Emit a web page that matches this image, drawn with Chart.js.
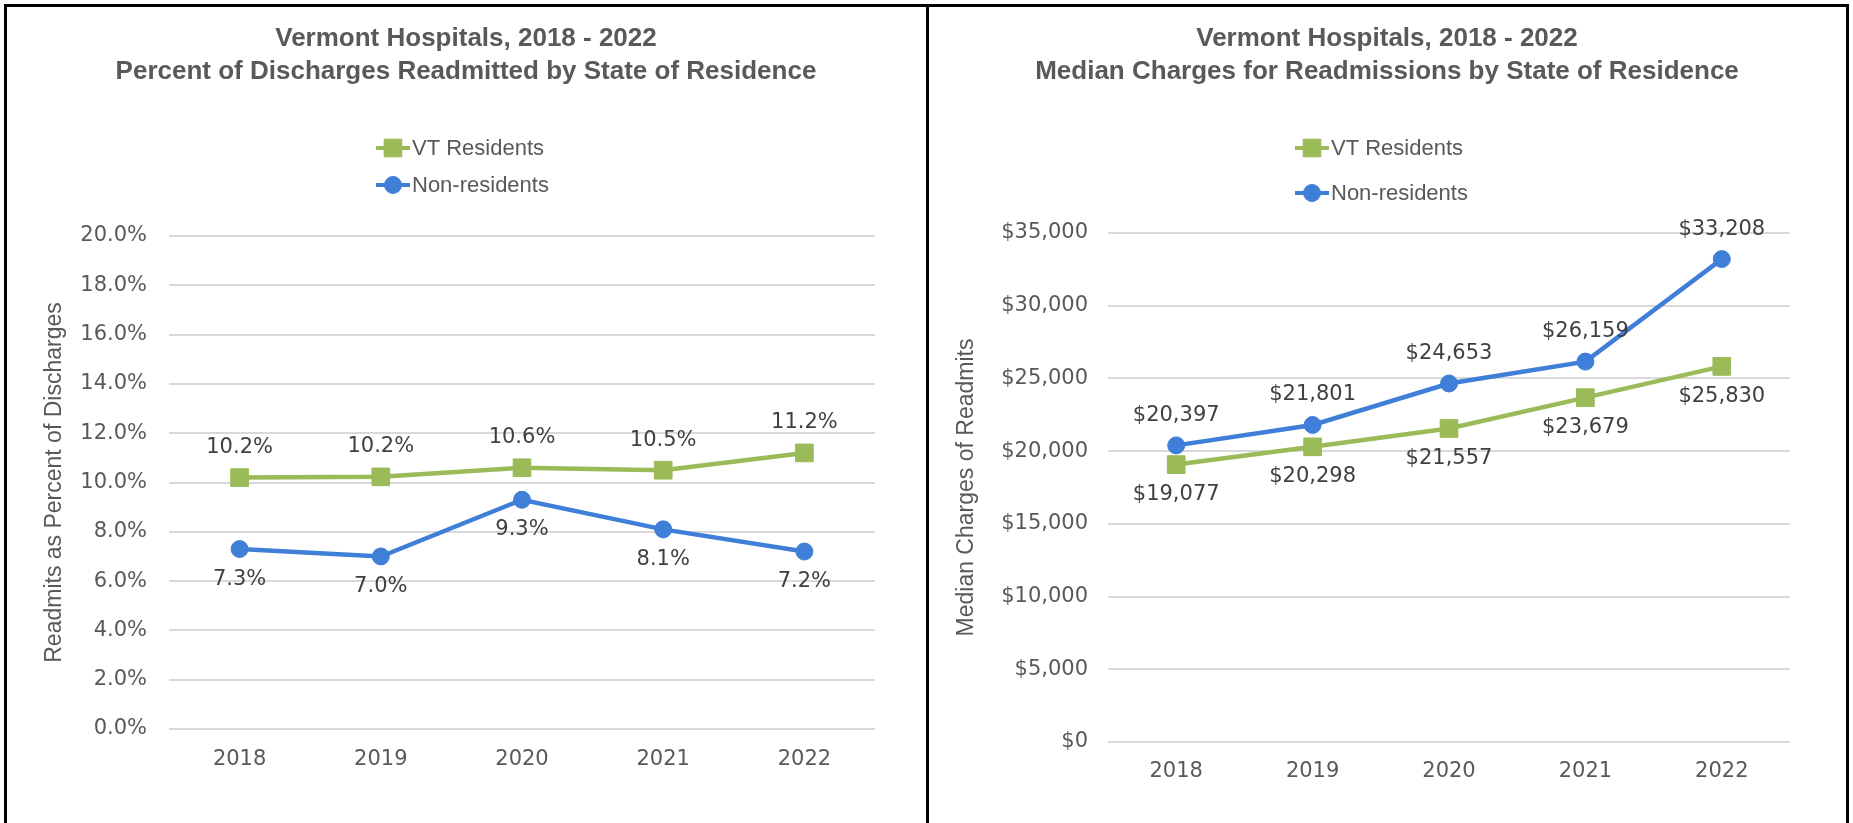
<!DOCTYPE html>
<html>
<head>
<meta charset="utf-8">
<script src="https://cdn.jsdelivr.net/npm/chart.js@4.4.1/dist/chart.umd.min.js"></script>
<style>
  html, body { margin: 0; padding: 0; background: #fff; }
  body { width: 1853px; height: 823px; position: relative; overflow: hidden; }
  .frame { position: absolute; left: 4px; top: 4px; width: 1839px; height: 840px; border: 3px solid #000; }
  .divider { position: absolute; left: 926px; top: 4px; width: 3px; height: 830px; background: #000; }
  .panel { position: absolute; top: 7px; height: 816px; }
  #leftPanel { left: 7px; width: 919px; }
  #rightPanel { left: 930px; width: 914px; }
</style>
</head>
<body>
<div class="frame"></div>
<div class="divider"></div>
<div class="panel" id="leftPanel"><canvas id="pctChart"></canvas></div>
<div class="panel" id="rightPanel"><canvas id="chargeChart"></canvas></div>

<script>
// --- Data ---
const years = ['2018', '2019', '2020', '2021', '2022'];
const seriesNames = ['VT Residents', 'Non-residents'];

// Percent of discharges readmitted
const vtPct = [10.2, 10.23, 10.6, 10.5, 11.2];
const nonPct = [7.3, 7.0, 9.3, 8.1, 7.2];
const pctTitle = ['Vermont Hospitals, 2018 - 2022', 'Percent of Discharges Readmitted by State of Residence'];
const pctAxisTitle = 'Readmits as Percent of Discharges';

// Median charges for readmissions
const vtCharges = [19077, 20298, 21557, 23679, 25830];
const nonCharges = [20397, 21801, 24653, 26159, 33208];
const chargeTitle = ['Vermont Hospitals, 2018 - 2022', 'Median Charges for Readmissions by State of Residence'];
const chargeAxisTitle = 'Median Charges of Readmits';

// --- Styles ---
const GREEN = '#9BBB59';
const BLUE = '#3F7FD7';
const GRID = '#D9D9D9';
const TEXT = '#595959';
const LABEL = '#404040';
const FONT = '"Liberation Sans", Arial, sans-serif';
const WIDE = '"DejaVu Sans", Verdana, sans-serif'; // numbers in the original are wide

const fmtPct = v => v.toFixed(1) + '%';
const fmtMoney = v => '$' + Math.round(v).toLocaleString('en-US');

// legend drawn as line + marker, stacked vertically
const lineLegend = {
    id: 'lineLegend',
    afterDraw(chart, args, opts) {
        const ctx = chart.ctx;
        ctx.save();
        ctx.font = '22px ' + FONT;
        ctx.textBaseline = 'middle';
        ctx.textAlign = 'left';
        chart.data.datasets.forEach((ds, i) => {
            const y = opts.rows[i];
            const x0 = opts.x;
            ctx.strokeStyle = ds.borderColor;
            ctx.lineWidth = 4;
            ctx.beginPath();
            ctx.moveTo(x0, y);
            ctx.lineTo(x0 + 34, y);
            ctx.stroke();
            ctx.fillStyle = ds.pointBackgroundColor;
            ctx.lineWidth = 1;
            Chart.helpers.drawPoint(ctx, {
                pointStyle: ds.pointStyle,
                radius: ds.pointRadius,
                borderWidth: 1
            }, x0 + 17, y);
            ctx.fillStyle = TEXT;
            ctx.fillText(ds.label, x0 + 36, y + 1);
        });
        ctx.restore();
    }
};

// value labels above / below each point
const pointLabels = {
    id: 'pointLabels',
    afterDatasetsDraw(chart, args, opts) {
        const ctx = chart.ctx;
        ctx.save();
        ctx.font = '21px ' + WIDE;
        ctx.fillStyle = LABEL;
        ctx.textAlign = 'center';
        ctx.textBaseline = 'middle';
        chart.data.datasets.forEach((ds, i) => {
            const meta = chart.getDatasetMeta(i);
            meta.data.forEach((pt, j) => {
                const dy = ds.labelPos === 'above' ? -opts.offset : opts.offset;
                ctx.fillText(opts.format(ds.data[j]), pt.x, pt.y + dy);
            });
        });
        ctx.restore();
    }
};

function makeDataset(name, values, color, style, labelPos) {
    return {
        label: name,
        data: values,
        borderColor: color,
        backgroundColor: color,
        borderWidth: 4.5,
        pointStyle: style,
        pointRadius: style === 'rect' ? 12.5 : 8.5,
        pointBorderWidth: 1,
        pointBorderColor: color,
        pointBackgroundColor: color,
        tension: 0,
        labelPos: labelPos
    };
}

function makeChart(canvasId, cfg) {
    return new Chart(document.getElementById(canvasId), {
        type: 'line',
        data: { labels: years, datasets: cfg.datasets },
        options: {
            responsive: true,
            maintainAspectRatio: false,
            animation: false,
            layout: { padding: { left: cfg.padLeft, right: cfg.padRight, top: 0, bottom: 0 } },
            plugins: {
                legend: { display: false },
                tooltip: { enabled: false },
                title: {
                    display: true,
                    text: cfg.title,
                    color: TEXT,
                    font: { family: FONT, size: 26, weight: 'bold', lineHeight: 1.27 },
                    padding: { top: 15.5, bottom: cfg.titleGap }
                },
                lineLegend: { x: cfg.legendX, rows: cfg.legendRows },
                pointLabels: { offset: 30, format: cfg.format }
            },
            scales: {
                x: {
                    offset: true,
                    grid: { display: false, drawTicks: false },
                    border: { display: false },
                    ticks: { color: TEXT, padding: cfg.xPad, font: { family: WIDE, size: 21 } },
                    afterFit: s => { s.height = cfg.xHeight; }
                },
                y: {
                    min: 0,
                    max: cfg.yMax,
                    grid: { color: GRID, lineWidth: 2, drawTicks: false },
                    border: { display: false },
                    ticks: {
                        stepSize: cfg.yStep,
                        color: TEXT,
                        padding: cfg.yPad,
                        font: { family: WIDE, size: 21 },
                        callback: v => cfg.format(v)
                    },
                    title: {
                        display: true,
                        text: cfg.axisTitle,
                        color: TEXT,
                        font: { family: FONT, size: 23 },
                        padding: { top: cfg.axisTitlePad, bottom: 0 }
                    },
                    afterFit: s => { s.width = cfg.yWidth; }
                }
            }
        },
        plugins: [lineLegend, pointLabels]
    });
}

makeChart('pctChart', {
    datasets: [
        makeDataset(seriesNames[0], vtPct, GREEN, 'rect', 'above'),
        makeDataset(seriesNames[1], nonPct, BLUE, 'circle', 'below')
    ],
    title: pctTitle,
    axisTitle: pctAxisTitle,
    format: fmtPct,
    yMax: 20, yStep: 2,
    padLeft: 50, padRight: 51, yWidth: 112,
    axisTitlePad: -16, yPad: 22,
    xHeight: 94, xPad: 18,
    titleGap: 147.5,
    legendX: 369, legendRows: [141, 178]
});

makeChart('chargeChart', {
    datasets: [
        makeDataset(seriesNames[0], vtCharges, GREEN, 'rect', 'below'),
        makeDataset(seriesNames[1], nonCharges, BLUE, 'circle', 'above')
    ],
    title: chargeTitle,
    axisTitle: chargeAxisTitle,
    format: fmtMoney,
    yMax: 35000, yStep: 5000,
    padLeft: 54, padRight: 54, yWidth: 124,
    axisTitlePad: -30.8, yPad: 20,
    xHeight: 81, xPad: 17,
    titleGap: 144.5,
    legendX: 365, legendRows: [141, 186]
});
</script>
</body>
</html>
